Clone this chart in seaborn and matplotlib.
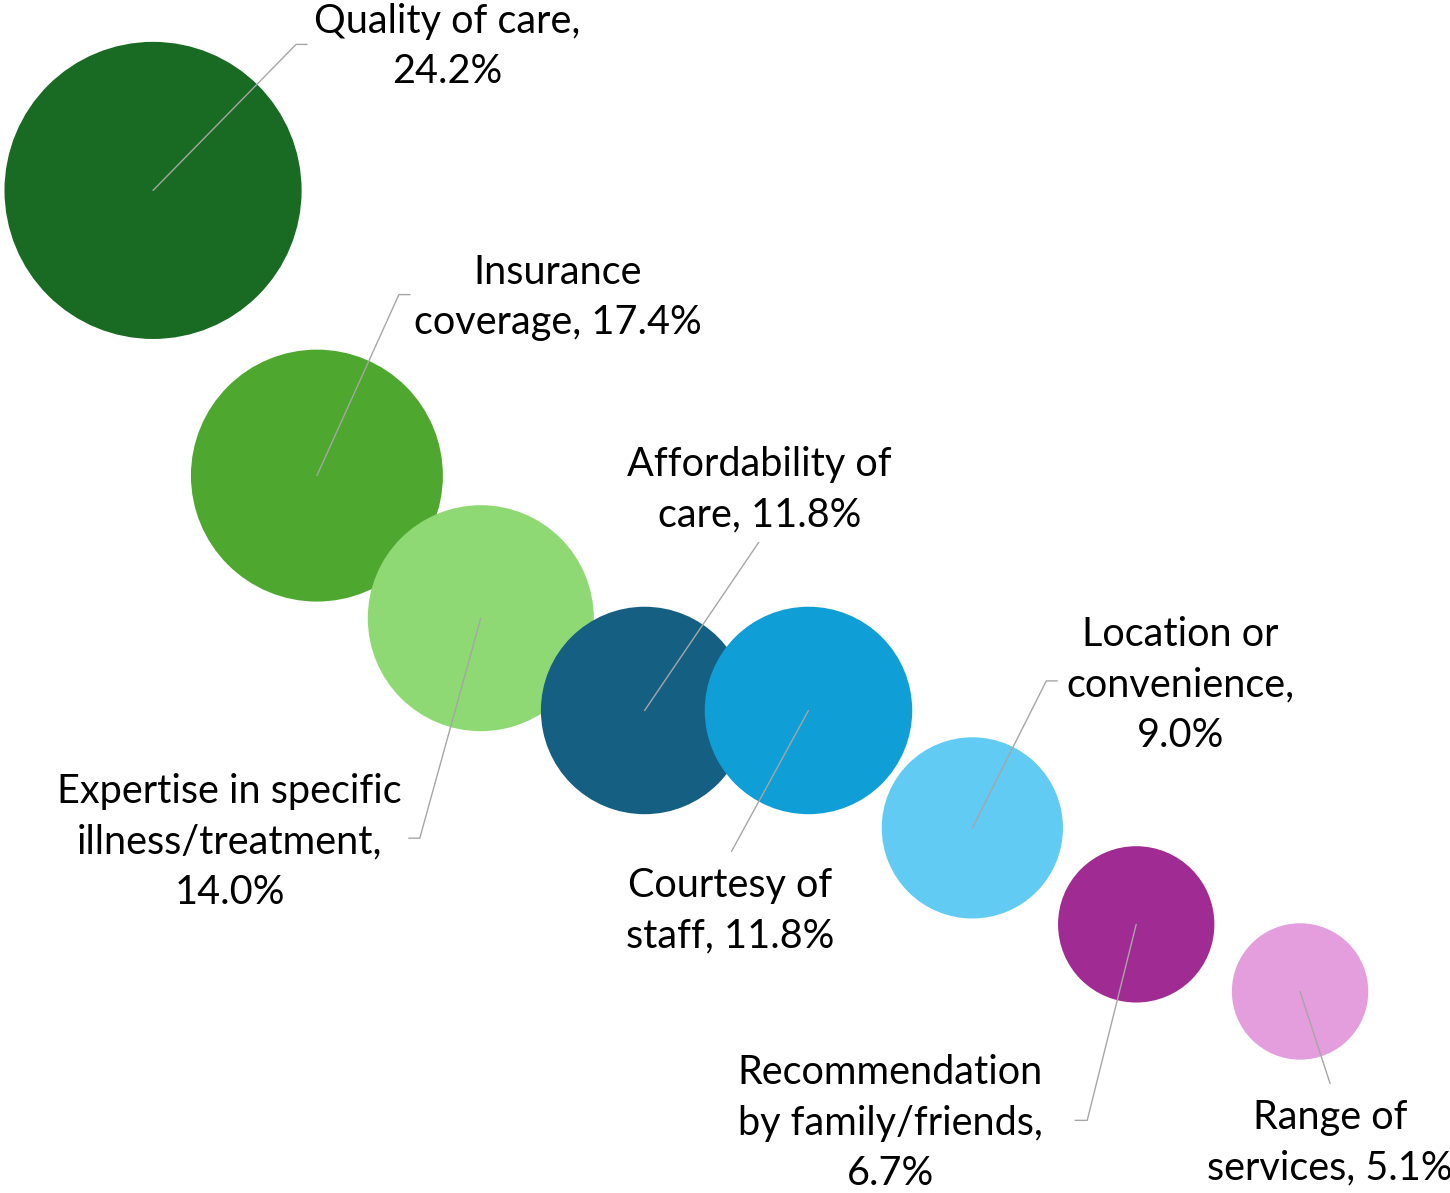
"""Bubble chart: reasons for choosing a healthcare provider."""

import pandas as pd
import matplotlib
matplotlib.use("Agg")
import matplotlib.pyplot as plt
import seaborn as sns

# Data
labels = [
    "Quality of care,\n24.2%",
    "Insurance\ncoverage, 17.4%",
    "Expertise in specific\nillness/treatment,\n14.0%",
    "Affordability of\ncare, 11.8%",
    "Courtesy of\nstaff, 11.8%",
    "Location or\nconvenience,\n9.0%",
    "Recommendation\nby family/friends,\n6.7%",
    "Range of\nservices, 5.1%",
]
rank = [1, 2, 3, 4, 5, 6, 7, 8]
share = [24.2, 17.4, 14.0, 11.8, 11.8, 9.0, 6.7, 5.1]
colors = ["#196B24", "#4EA72E", "#8ED973", "#156082",
          "#0F9ED5", "#61CBF3", "#A02B93", "#E59EDD"]

# Label placement, pixel offsets from bubble centre (y up)
text_offset = [(294, 144), (241, 178), (-251, -224), (115, 221),
               (-78, -200), (208, 143), (-246, -199), (30, -151)]
# leader line elbow and optional horizontal tick end (pixel offsets)
leader_elbow = [(143, 146), (82, 181), (-61, -220), (114, 168),
                (-77, -141), (74, 147), (-49, -196), (30, -92)]
leader_tick = [(154, 146), (93, 181), (-72, -220), None,
               None, (85, 147), (-61, -196), None]

df = pd.DataFrame({"label": labels, "rank": rank, "share": share})

W, H, DPI = 1450, 1193, 100
XLIM = (0.066, 0.066 + W / 163.86)
YLIM = (28.74 - H / 41.94, 28.74)
px_x = (XLIM[1] - XLIM[0]) / W
px_y = (YLIM[1] - YLIM[0]) / H

# bubble area proportional to share, radius ~30.2 px * sqrt(share)
s_per_unit = (2 * 30.2 * 72 / DPI) ** 2

sns.set_style("white")
plt.rcParams["font.family"] = ["Lato", "DejaVu Sans"]

fig = plt.figure(figsize=(W / DPI, H / DPI), dpi=DPI)
ax = fig.add_axes([0, 0, 1, 1])

sns.scatterplot(
    data=df, x="rank", y="share", hue="label", size="share",
    palette=dict(zip(labels, colors)),
    sizes=(0, s_per_unit * max(share)), size_norm=(0, max(share)),
    linewidth=0, alpha=1, legend=False, ax=ax,
)

for i, (x, y) in enumerate(zip(rank, share)):
    ex, ey = leader_elbow[i]
    xs = [x, x + ex * px_x]
    ys = [y, y + ey * px_y]
    if leader_tick[i] is not None:
        tx, ty = leader_tick[i]
        xs.append(x + tx * px_x)
        ys.append(y + ty * px_y)
    ax.plot(xs, ys, color="#A6A6A6", linewidth=1.0, zorder=3)
    ox, oy = text_offset[i]
    ax.text(x + ox * px_x, y + oy * px_y, labels[i], ha="center",
            va="center", fontsize=28.5, color="black", linespacing=1.45,
            zorder=4)

ax.set_xlim(*XLIM)
ax.set_ylim(*YLIM)
ax.axis("off")

fig.savefig("out.png", dpi=DPI)
plt.close(fig)
